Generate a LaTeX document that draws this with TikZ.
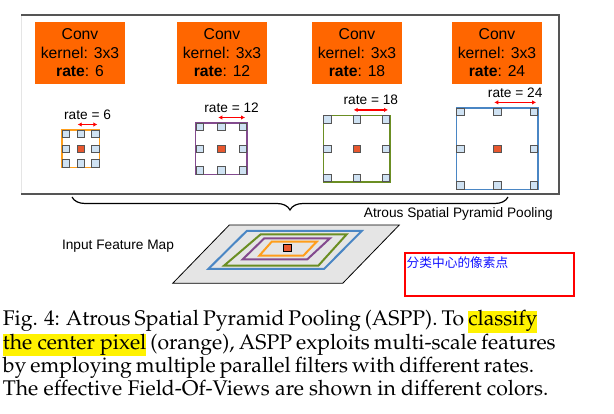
\documentclass[tikz,border=0pt]{standalone}
\usepackage[T1]{fontenc}
\usepackage{fontspec}
\setmainfont{Liberation Sans}
\newfontfamily\cjk{Noto Sans CJK SC}
\usetikzlibrary{arrows.meta,decorations.pathreplacing}
\definecolor{convor}{HTML}{FF6600}
\definecolor{orl}{HTML}{FF9E1B}
\definecolor{purl}{HTML}{834A8E}
\definecolor{grl}{HTML}{6B8E23}
\definecolor{bll}{HTML}{4A86C4}
\definecolor{kblue}{HTML}{CFE2F3}
\definecolor{kred}{HTML}{E8572E}
\definecolor{frg}{HTML}{555555}
\definecolor{hly}{HTML}{FFF200}
\definecolor{cnblue}{HTML}{1010FF}
\newcommand\capfont{\fontencoding{T1}\fontfamily{ppl}\fontsize{21.2}{23.3}\selectfont}
\newcommand\hlt[1]{{\setlength\fboxsep{0pt}\colorbox{hly}{\rule[-0.33em]{0pt}{0.95em}#1}}}
\newcommand\kgrid[5]{%
  \draw[#5, line width=1.6pt] ({#2-#4-4},{#3-#4-4}) rectangle ({#2+#4+4},{#3+#4+4});
  \foreach \i in {-1,0,1}{\foreach \j in {-1,0,1}{%
    \node[cell] at ({#2+\i*#4},{#3+\j*#4}) {};}}
  \node[cell, fill=kred] (#1c) at (#2,#3) {};
  \coordinate (#1a) at ({#2-3},{#3-#4-9.5});
  \coordinate (#1b) at ({#2+#4+2},{#3-#4-9.5});
  \draw[rarrow] (#1a) -- (#1b);
  \node[lbl] (#1l) at ($(#1a)!0.5!(#1b)+(0,-10)$) {rate = #1};
}
\usetikzlibrary{calc}
\begin{document}
\begin{tikzpicture}[x=1pt,y=-1pt,
  convbox/.style={fill=convor, minimum width=90pt, minimum height=62pt, inner sep=0pt,
    align=center, font=\fontsize{15.7}{18.5}\selectfont},
  cell/.style={draw=frg, fill=kblue, line width=0.8pt, minimum size=7.3pt, inner sep=0pt},
  rarrow/.style={red, line width=1.3pt, {Latex[length=4pt,width=4.5pt]}-{Latex[length=4pt,width=4.5pt]}},
  lbl/.style={font=\fontsize{13.7}{16}\selectfont, inner sep=0pt},
  fov/.style={line width=2pt}]
\useasboundingbox (0,0) rectangle (614,414);
% frame
\draw[gray!20, line width=1pt] (21,15) -- (21,194);
\draw[frg, line width=1.3pt] (21,15) -- (559,15) -- (559,194) -- (21,194);
% conv boxes
\node[convbox] (c1) at (80,53) {Conv\\kernel: 3x3\\\textbf{rate}: 6};
\node[convbox] (c2) at (222,53) {Conv\\kernel: 3x3\\\textbf{rate}: 12};
\node[convbox] (c3) at (357,53) {Conv\\kernel: 3x3\\\textbf{rate}: 18};
\node[convbox] (c4) at (497,53) {Conv\\kernel: 3x3\\\textbf{rate}: 24};
% grids
\kgrid{6}{80.7}{148.7}{14.7}{orl}
\kgrid{12}{221.3}{148.7}{21.7}{purl}
\kgrid{18}{356.7}{148.7}{29.3}{grl}
\kgrid{24}{497.3}{148.7}{36.8}{bll}
% brace
\coordinate (bl) at (72,197);
\coordinate (br) at (508,197);
\draw[line width=1.2pt, decorate, decoration={brace, amplitude=13pt, mirror}] (bl) -- (br);
\node[lbl, anchor=east] (aspp) at (553,214) {Atrous Spatial Pyramid Pooling};
\node[lbl] (ifm) at (118,246.6) {Input Feature Map};
% feature map
\draw[fill=gray!20, line width=0.8pt] (229.3,225) -- (399.3,225) -- (342.7,283.3) -- (172.7,283.3) -- cycle;
\draw[fov, bll] (246.7,231) -- (361.7,231) -- (324,269) -- (208.3,269) -- cycle;
\draw[fov, grl] (260.7,234.3) -- (346.7,234.3) -- (318.3,265.7) -- (224,265.7) -- cycle;
\draw[fov, purl] (264.3,238.3) -- (330,238.3) -- (307.3,259.3) -- (242.7,259.3) -- cycle;
\draw[fov, orl] (271.7,241.7) -- (316.7,241.7) -- (303.3,255.7) -- (259.3,255.7) -- cycle;
\node[draw=black, fill=kred, line width=0.9pt, minimum size=7.3pt, inner sep=0pt] (px) at (287.3,248.3) {};
% red box
\draw[red, line width=2.2pt] (405,253) rectangle (574,296);
\node[anchor=west, inner sep=0pt, text=cnblue, font=\cjk\fontsize{12.7}{14}\selectfont] (cn) at (406.5,262.7) {分类中心的像素点};
% caption
\node[anchor=base west, inner sep=0pt] (cap1) at (2.7,326) {\capfont\hbox to 527pt{Fig. 4: Atrous Spatial Pyramid Pooling (ASPP). To \hlt{classify}}};
\node[anchor=base west, inner sep=0pt] (cap2) at (2.7,349.3) {\capfont\hbox to 526pt{\hlt{the center pixel} (orange), ASPP exploits multi-scale features}};
\node[anchor=base west, inner sep=0pt] (cap3) at (2.7,372.7) {\capfont\hbox to 527pt{by employing multiple parallel filters with different rates.}};
\node[anchor=base west, inner sep=0pt] (cap4) at (2.7,396) {\capfont The effective Field-Of-Views are shown in different colors.};
\end{tikzpicture}
\end{document}
